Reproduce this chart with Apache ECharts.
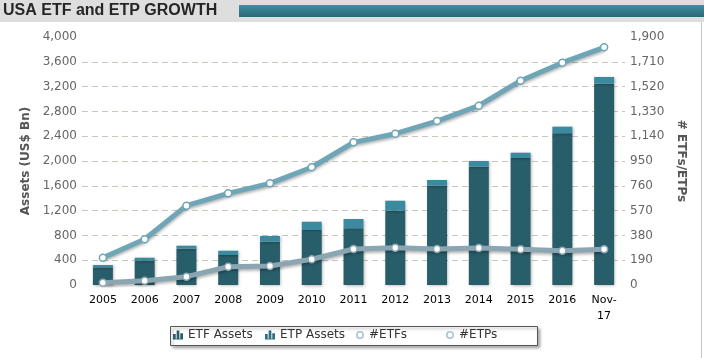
<!DOCTYPE html>
<html>
<head>
<meta charset="utf-8">
<script src="https://cdn.jsdelivr.net/npm/echarts@6/dist/echarts.min.js"></script>
<style>
html,body{margin:0;padding:0;background:#fff;}
#chart{width:704px;height:358px;}
</style>
</head>
<body>
<div id="chart"></div>
<script>
var categories = ['2005','2006','2007','2008','2009','2010','2011','2012','2013','2014','2015','2016','Nov-\n17'];
var etfAssets = [285, 395, 586, 484, 699, 887, 914, 1199, 1602, 1909, 2048, 2446, 3247];
var etpAssets = [38, 45, 48, 69, 91, 134, 151, 161, 92, 91, 86, 108, 108];
var numETFs = [209, 350, 608, 702, 779, 902, 1093, 1159, 1256, 1374, 1565, 1703, 1821];
var numETPs = [18, 33, 64, 140, 146, 197, 276, 286, 276, 283, 273, 263, 273];
var legendNames = ['ETF Assets', 'ETP Assets', '#ETFs', '#ETPs'];

var chart = echarts.init(document.getElementById('chart'));
var barIcon = 'path://M0,10 L0,5 L3,5 L3,10 Z M4,10 L4,1 L7,1 L7,10 Z M8,10 L8,4 L11,4 L11,10 Z M0,10 L11,10 L11,11 L0,11 Z';
var ringIcon = 'path://M5,0 A5,5 0 1,1 4.99,0 Z M5,2 A3,3 0 1,0 5.01,2 Z';
var darkBar = '#285e6a', lightBar = '#3c8aa0', etfLine = '#6ea6b7', etpLine = '#8ba6b3';
var legendLefts = [173, 265, 356, 446];
var legendIcons = [barIcon, barIcon, ringIcon, ringIcon];
var legendIconColors = [darkBar, '#2f6f7f', '#a9c6d0', '#a9c6d0'];
var legendIconSizes = [10, 10, 8, 8];

var legends = legendNames.map(function (n, i) {
  return {
    left: legendLefts[i], top: 329, padding: 0, itemWidth: legendIconSizes[i], itemHeight: legendIconSizes[i],
    textStyle: {color: '#333', fontSize: 12, fontFamily: 'DejaVu Sans'},
    data: [{name: n, icon: legendIcons[i], itemStyle: {color: legendIconColors[i], borderWidth: 0}}]
  };
});

chart.setOption({
  animation: false,
  backgroundColor: '#fff',
  graphic: [
    {type: 'rect', left: 0, top: 0, shape: {width: 704, height: 22}, style: {fill: '#dedede'}, z: -10},
    {type: 'rect', left: 239, top: 5, shape: {width: 465, height: 12},
      style: {fill: new echarts.graphic.LinearGradient(0, 0, 0, 1, [{offset: 0, color: '#3d8fa3'}, {offset: 1, color: '#2b6878'}])}, z: -9},
    {type: 'text', left: 3, top: 3, style: {text: 'USA ETF and ETP GROWTH', fill: '#262626', fontSize: 16, fontWeight: 'bold', fontFamily: '"Liberation Sans", Arial, sans-serif'}},
    {type: 'rect', left: 701, top: 22, shape: {width: 1, height: 336}, style: {fill: '#c8c8c8'}},
    {type: 'rect', left: 170, top: 326, z: -5, shape: {x: 0, y: 0, width: 367, height: 19},
      style: {fill: '#fff', stroke: '#555', lineWidth: 1, shadowColor: 'rgba(0,0,0,0.35)', shadowBlur: 3, shadowOffsetX: 2, shadowOffsetY: 2}}
  ],
  legend: legends,
  grid: {left: 82, right: 79, top: 37, bottom: 73},
  xAxis: {
    type: 'category', data: categories,
    axisLine: {show: false}, axisTick: {show: false},
    axisLabel: {color: '#000', fontSize: 11, fontFamily: 'DejaVu Sans', margin: 7, lineHeight: 16, interval: 0}
  },
  yAxis: [
    {
      type: 'value', min: 0, max: 4000, interval: 400,
      name: 'Assets (US$ Bn)', nameLocation: 'middle', nameGap: 50,
      nameTextStyle: {color: '#555', fontWeight: 'bold', fontSize: 12, fontFamily: 'DejaVu Sans'},
      axisLine: {show: false}, axisTick: {show: false},
      axisLabel: {color: '#666', fontSize: 12, fontFamily: 'DejaVu Sans', margin: 5},
      splitLine: {show: true, showMinLine: false, showMaxLine: false, lineStyle: {color: '#c9c5bb', type: [6, 4], width: 1}}
    },
    {
      type: 'value', min: 0, max: 1900, interval: 190, position: 'right',
      name: '# ETFs/ETPs', nameLocation: 'middle', nameGap: 46, nameRotate: -90,
      nameTextStyle: {color: '#555', fontWeight: 'bold', fontSize: 12, fontFamily: 'DejaVu Sans'},
      axisLine: {show: false}, axisTick: {show: false},
      axisLabel: {color: '#666', fontSize: 12, fontFamily: 'DejaVu Sans', margin: 5},
      splitLine: {show: false}
    }
  ],
  series: [
    {
      name: 'ETF Assets', type: 'bar', stack: 'assets', yAxisIndex: 0, data: etfAssets, barWidth: 20,
      itemStyle: {color: darkBar, shadowColor: 'rgba(0,0,0,0.3)', shadowBlur: 3, shadowOffsetX: 1, shadowOffsetY: 1}
    },
    {
      name: 'ETP Assets', type: 'bar', stack: 'assets', yAxisIndex: 0, data: etpAssets, barWidth: 20,
      itemStyle: {color: lightBar, shadowColor: 'rgba(0,0,0,0.3)', shadowBlur: 3, shadowOffsetX: 1, shadowOffsetY: 1}
    },
    {
      name: '#ETFs', type: 'line', yAxisIndex: 1, data: numETFs,
      symbol: 'circle', symbolSize: 7,
      lineStyle: {color: etfLine, width: 5, shadowColor: 'rgba(0,0,0,0.3)', shadowBlur: 3, shadowOffsetY: 2},
      itemStyle: {color: '#fff', borderColor: etfLine, borderWidth: 1.5}
    },
    {
      name: '#ETPs', type: 'line', yAxisIndex: 1, data: numETPs,
      symbol: 'circle', symbolSize: 7,
      lineStyle: {color: etpLine, width: 5, shadowColor: 'rgba(0,0,0,0.3)', shadowBlur: 3, shadowOffsetY: 2},
      itemStyle: {color: '#fff', borderColor: etpLine, borderWidth: 1.5}
    }
  ]
});
</script>
</body>
</html>
